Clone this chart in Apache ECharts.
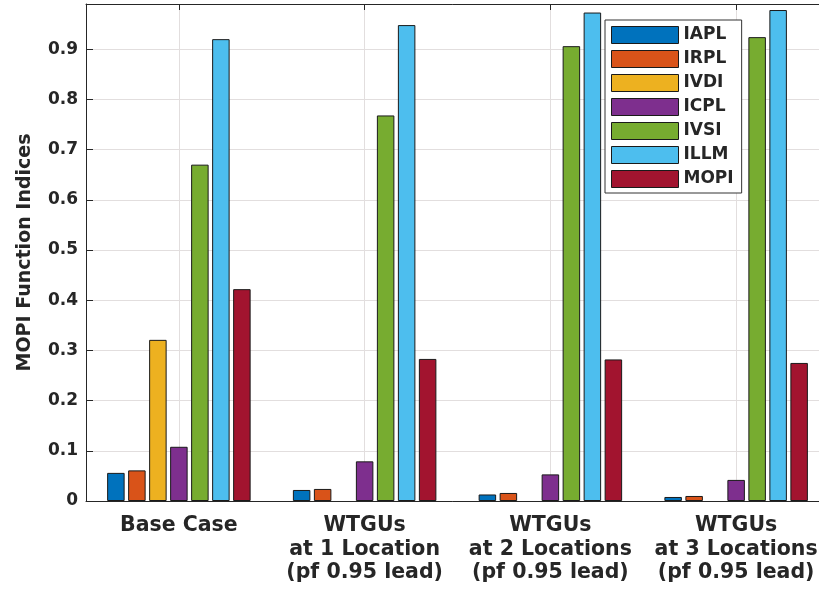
<!DOCTYPE html>
<html>
<head>
<meta charset="utf-8">
<script src="https://cdn.jsdelivr.net/npm/echarts@6/dist/echarts.min.js"></script>
<style>
  html, body { margin: 0; padding: 0; background: #fff; }
  #chart { width: 819px; height: 590px; }
</style>
</head>
<body>
<div id="chart"></div>
<script>
// Scenario groups on the x axis
const categories = [
  'Base Case',
  'WTGUs\nat 1 Location\n(pf 0.95 lead)',
  'WTGUs\nat 2 Locations\n(pf 0.95 lead)',
  'WTGUs\nat 3 Locations\n(pf 0.95 lead)'
];

// Index values per scenario
const iapl = [0.056, 0.022, 0.013, 0.008];
const irpl = [0.061, 0.024, 0.016, 0.010];
const ivdi = [0.321, 0, 0, 0];
const icpl = [0.108, 0.079, 0.053, 0.042];
const ivsi = [0.670, 0.768, 0.906, 0.924];
const illm = [0.920, 0.948, 0.973, 0.978];
const mopi = [0.422, 0.283, 0.282, 0.275];

const seriesNames = ['IAPL', 'IRPL', 'IVDI', 'ICPL', 'IVSI', 'ILLM', 'MOPI'];
const seriesData = [iapl, irpl, ivdi, icpl, ivsi, illm, mopi];
const seriesColors = ['#0072BD', '#D95319', '#EDB120', '#7E2F8E', '#77AC30', '#4DBEEE', '#A2142F'];

const FONT = 'DejaVu Sans';
const INK = '#262626';

const chart = echarts.init(document.getElementById('chart'), null, { renderer: 'canvas' });

// zero-valued bars get no outline so they don't leave a dash on the baseline
const series = seriesNames.map((name, i) => ({
  name: name,
  type: 'bar',
  data: seriesData[i].map(v => (v === 0 ? { value: v, itemStyle: { borderWidth: 0 } } : v)),
  barWidth: 17.5,
  barGap: '20%',
  itemStyle: { color: seriesColors[i], borderColor: '#1a1a1a', borderWidth: 1 },
  z: 3
}));

chart.setOption({
  animation: false,
  backgroundColor: '#ffffff',
  // the plot box runs past the right edge of the canvas
  grid: { left: 86, top: 4, width: 743, height: 497, containLabel: false, outerBoundsMode: 'none' },
  legend: {
    orient: 'vertical',
    left: 605,
    top: 20,
    padding: [6, 8, 5, 6],
    itemWidth: 67,
    itemHeight: 17,
    itemGap: 6,
    icon: 'rect',
    backgroundColor: '#ffffff',
    borderColor: '#333333',
    borderWidth: 1,
    borderRadius: 0,
    itemStyle: { borderColor: '#1a1a1a', borderWidth: 1 },
    textStyle: { fontFamily: FONT, fontWeight: 'bold', fontSize: 17, color: INK },
    data: seriesNames
  },
  xAxis: [
    {
      type: 'category',
      data: categories,
      position: 'bottom',
      axisLine: { show: true, lineStyle: { color: INK, width: 1 } },
      axisTick: { show: false },
      splitLine: { show: true, alignWithLabel: true, lineStyle: { color: '#e2dede', width: 1 } },
      axisLabel: {
        interval: 0,
        hideOverlap: false,
        margin: 13,
        fontFamily: FONT,
        fontWeight: 'bold',
        fontSize: 20.5,
        lineHeight: 23.5,
        color: INK,
        align: 'center'
      }
    },
    {
      type: 'category',
      data: categories,
      position: 'top',
      axisLine: { show: true, lineStyle: { color: INK, width: 1 } },
      axisTick: { show: true, inside: true, alignWithLabel: true, length: 6, lineStyle: { color: INK } },
      axisLabel: { show: false },
      splitLine: { show: false }
    }
  ],
  yAxis: {
    type: 'value',
    min: 0,
    max: 0.99,
    interval: 0.1,
    name: 'MOPI Function Indices',
    nameLocation: 'middle',
    nameGap: 51,
    nameTextStyle: { fontFamily: FONT, fontWeight: 'bold', fontSize: 19, color: INK },
    axisLine: { show: true, lineStyle: { color: INK, width: 1 } },
    axisTick: { show: true, inside: true, length: 7, lineStyle: { color: INK } },
    splitLine: { show: true, lineStyle: { color: '#e2dede', width: 1 } },
    axisLabel: {
      margin: 8,
      fontFamily: FONT,
      fontWeight: 'bold',
      fontSize: 17,
      color: INK,
      formatter: function (v) {
        if (v > 0.95) return '';
        return v === 0 ? '0' : (Math.round(v * 10) / 10).toFixed(1);
      }
    }
  },
  series: series
});
</script>
</body>
</html>
